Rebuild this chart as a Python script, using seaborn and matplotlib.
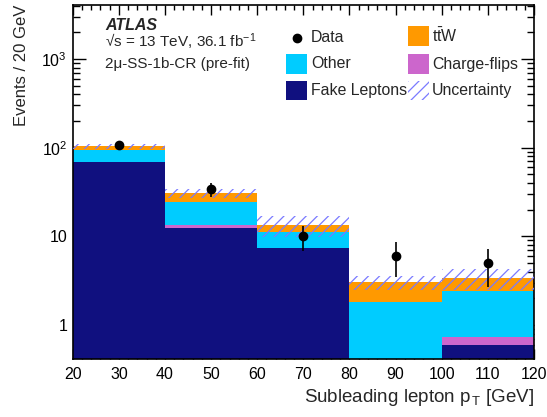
import numpy as np
import pandas as pd
import matplotlib
matplotlib.use("Agg")
import matplotlib.pyplot as plt
import matplotlib.patches as mpatches
from matplotlib.lines import Line2D
from matplotlib.ticker import FixedLocator, FixedFormatter, MultipleLocator, LogLocator, NullFormatter
import seaborn as sns

# ---------------- data ----------------
bin_edges = [20, 40, 60, 80, 100, 120]
bin_centers = [30, 50, 70, 90, 110]
fake_leptons = [68.5, 12.5, 7.3, 0.0, 0.59]
charge_flips = [1.0, 0.8, 0.15, 0.0, 0.15]
other = [24.5, 11.3, 3.85, 1.83, 1.68]
ttw = [9.5, 6.0, 2.1, 1.2, 0.94]
uncertainty = [6.0, 3.3, 3.5, 0.55, 0.9]
data_vals = [108, 34, 10, 6, 5]
data_err_lo = [10.2, 5.9, 3.2, 2.5, 2.3]
data_err_hi = [10.6, 5.7, 3.2, 2.6, 2.2]

process_order = ["ttW", "Other", "Charge-flips", "Fake Leptons"]  # top -> bottom
colors = {"ttW": "#ff9900", "Other": "#00ccff", "Charge-flips": "#cc66cc",
          "Fake Leptons": "#10107f"}

rows = []
for name, vals in [("ttW", ttw), ("Other", other), ("Charge-flips", charge_flips),
                   ("Fake Leptons", fake_leptons)]:
    for c, v in zip(bin_centers, vals):
        rows.append({"pt": c, "w": v, "process": name})
df = pd.DataFrame(rows)

# ---------------- style ----------------
sns.set_style("ticks")
plt.rcParams["font.family"] = ["Liberation Sans", "DejaVu Sans"]
plt.rcParams["mathtext.fontset"] = "custom"
plt.rcParams["mathtext.rm"] = "Liberation Sans"
plt.rcParams["mathtext.it"] = "Liberation Sans:italic"
plt.rcParams["mathtext.bf"] = "Liberation Sans:bold"
plt.rcParams["hatch.linewidth"] = 0.9

fig = plt.figure(figsize=(5.47, 4.17), dpi=100)
W, H = 547, 417
ax = fig.add_axes([72.7 / W, 1 - 359 / H, (534 - 72.7) / W, (359 - 5) / H])

sns.histplot(data=df, x="pt", weights="w", hue="process", hue_order=process_order,
             palette=colors, multiple="stack", bins=bin_edges, element="bars",
             fill=True, alpha=1, linewidth=0, legend=False, ax=ax)

ax.set_yscale("log")
ax.set_ylim(0.414, 4060)
ax.set_xlim(20, 120)

total = np.array(fake_leptons) + np.array(charge_flips) + np.array(other) + np.array(ttw)
unc = np.array(uncertainty)
hatch_col = "#7a7aff"
ax.bar(bin_centers, 2 * unc, bottom=total - unc, width=20, fill=False,
       hatch="///", edgecolor=hatch_col, linewidth=0, zorder=3)

ax.errorbar(bin_centers, data_vals, yerr=[data_err_lo, data_err_hi], fmt="o",
            color="black", markersize=6, elinewidth=1.2, capsize=0, zorder=5)

# ticks
ax.xaxis.set_major_locator(MultipleLocator(10))
ax.xaxis.set_minor_locator(MultipleLocator(2))
ax.yaxis.set_major_locator(FixedLocator([1, 10, 100, 1000]))
ax.yaxis.set_major_formatter(FixedFormatter(["1", "10", "$10^{2}$", "$10^{3}$"]))
ax.yaxis.set_minor_locator(LogLocator(base=10, subs=np.arange(2, 10)))
ax.yaxis.set_minor_formatter(NullFormatter())
ax.tick_params(axis="both", which="both", direction="in", top=True, right=True,
               labelsize=11.5, colors="black", width=1)
ax.tick_params(axis="x", which="major", length=7, pad=6)
ax.tick_params(axis="x", which="minor", length=3.5)
ax.tick_params(axis="y", which="major", length=9.5, pad=4)
ax.tick_params(axis="y", which="minor", length=5)
for s in ax.spines.values():
    s.set_linewidth(1.2)
    s.set_color("black")

ax.set_xlabel("Subleading lepton p$_{\\,\\mathrm{T}}$ [GeV]", fontsize=13.5, loc="right", labelpad=3)
ax.set_ylabel("Events / 20 GeV", fontsize=12, loc="top", labelpad=9)

# ---------------- annotations ----------------
def fx(px):
    return px / W

def fy(py):
    return 1 - py / H

fs = 11
leg_fs = 11.4
fig.text(fx(105), fy(25), "ATLAS", fontsize=11.5, fontweight="bold", fontstyle="italic",
         va="center", ha="left")
fig.text(fx(105), fy(42), "\u221as = 13 TeV, 36.1 fb$^{\\mathregular{-1}}$", fontsize=fs,
         va="center", ha="left")
fig.text(fx(105), fy(64), "2\u03bc-SS-1b-CR (pre-fit)", fontsize=fs, va="center", ha="left")

# legend
legend_items = [
    ("marker", None, "Data", 297, 38, 311),
    ("box", colors["ttW"], "t$\\bar{\\mathrm{t}}$W", 418, 36, 432),
    ("box", colors["Other"], "Other", 296.5, 64, 311),
    ("box", colors["Charge-flips"], "Charge-flips", 418, 64, 432),
    ("box", colors["Fake Leptons"], "Fake Leptons", 296.5, 90.5, 311),
    ("hatch", None, "Uncertainty", 418, 90.5, 432),
]
bw, bh = 21, 19.5
for kind, col, label, cx, cy, tx in legend_items:
    if kind == "marker":
        fig.add_artist(Line2D([fx(cx)], [fy(cy)], marker="o", color="black",
                              markersize=6, linestyle="none", transform=fig.transFigure))
    elif kind == "box":
        fig.add_artist(mpatches.Rectangle((fx(cx - bw / 2), fy(cy + bh / 2)), bw / W, bh / H,
                                          facecolor=col, edgecolor="none",
                                          transform=fig.transFigure))
    else:
        fig.add_artist(mpatches.Rectangle((fx(cx - bw / 2), fy(cy + bh / 2)), bw / W, bh / H,
                                          facecolor="none", edgecolor=hatch_col, hatch="///",
                                          linewidth=0, transform=fig.transFigure))
    fig.text(fx(tx), fy(cy), label, fontsize=leg_fs, va="center", ha="left")

fig.savefig("out.png", dpi=100)
